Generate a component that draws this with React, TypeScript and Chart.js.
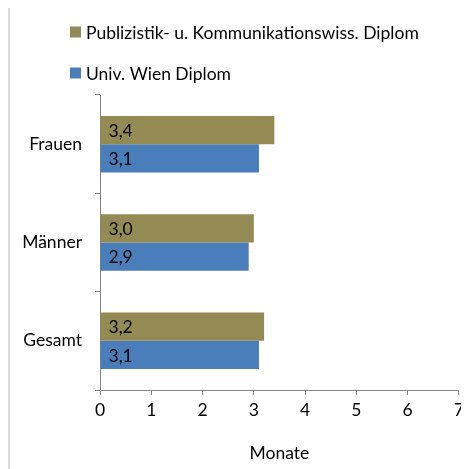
import React, { useEffect, useRef } from "react";
import { Chart, registerables } from "chart.js";

Chart.register(...registerables);

const categories = ["Frauen", "Männer", "Gesamt"];
const seriesNames = ["Publizistik- u. Kommunikationswiss. Diplom", "Univ. Wien Diplom"];
const publizistik = [3.4, 3.0, 3.2];
const univWien = [3.1, 2.9, 3.1];
const seriesColors = ["#948A54", "#4A7EBB"];
const xTicks = [0, 1, 2, 3, 4, 5, 6, 7];
const xTitle = "Monate";

const FONT = "Lato, 'DejaVu Sans', sans-serif";
const FS = 17.5;
const AXIS = "#868686";

const legendPlugin = {
  id: "customLegend",
  afterDraw(chart: any) {
    const ctx = chart.ctx;
    ctx.save();
    ctx.font = `${FS}px ${FONT}`;
    ctx.textBaseline = "middle";
    ctx.textAlign = "left";
    const rows = [25, 66];
    chart.data.datasets.forEach((ds: any, i: number) => {
      const y = rows[i];
      ctx.fillStyle = ds.backgroundColor;
      ctx.fillRect(60, y - 5.5, 11, 11);
      ctx.fillStyle = "#000";
      ctx.fillText(ds.label, 76, y + 1);
    });
    ctx.restore();
  },
};

const labelPlugin = {
  id: "barLabels",
  afterDatasetsDraw(chart: any) {
    const ctx = chart.ctx;
    ctx.save();
    ctx.font = `${FS}px ${FONT}`;
    ctx.textBaseline = "middle";
    ctx.textAlign = "left";
    ctx.fillStyle = "#000";
    chart.data.datasets.forEach((ds: any, di: number) => {
      const meta = chart.getDatasetMeta(di);
      meta.data.forEach((bar: any, i: number) => {
        const v = ds.data[i] as number;
        ctx.fillText(v.toFixed(1).replace(".", ","), bar.base + 8, bar.y + 1);
      });
    });
    ctx.restore();
  },
};

export default function App() {
  const ref = useRef<HTMLCanvasElement>(null);
  useEffect(() => {
    document.documentElement.style.overflow = "hidden";
    document.body.style.overflow = "hidden";
    const chart = new Chart(ref.current!, {
      type: "bar",
      data: {
        labels: categories,
        datasets: [
          { label: seriesNames[0], data: publizistik, backgroundColor: seriesColors[0] },
          { label: seriesNames[1], data: univWien, backgroundColor: seriesColors[1] },
        ],
      },
      options: {
        indexAxis: "y",
        responsive: false,
        animation: false,
        datasets: { bar: { categoryPercentage: 0.575, barPercentage: 1 } },
        layout: { padding: { top: 88, left: 10, right: 10, bottom: 5 } },
        plugins: { legend: { display: false }, tooltip: { enabled: false } },
        scales: {
          x: {
            min: 0,
            max: 7,
            afterBuildTicks: (s: any) => {
              s.ticks = xTicks.map((v) => ({ value: v }));
            },
            ticks: { color: "#000", font: { family: FONT, size: FS }, padding: 5 },
            grid: { drawOnChartArea: false, drawTicks: true, tickLength: 5, color: AXIS },
            border: { color: AXIS },
            title: {
              display: true,
              text: xTitle,
              color: "#000",
              font: { family: FONT, size: FS },
              padding: { top: 17, bottom: 0 },
            },
          },
          y: {
            afterFit: (s: any) => {
              s.width = 80;
            },
            ticks: { color: "#000", font: { family: FONT, size: FS }, padding: 13 },
            grid: { offset: true, drawOnChartArea: false, drawTicks: true, tickLength: 5, color: AXIS },
            border: { color: AXIS },
          },
        },
      },
      plugins: [legendPlugin, labelPlugin],
    });
    return () => chart.destroy();
  }, []);
  return (
    <div
      style={{
        marginTop: -3,
        width: 459,
        height: 462,
        borderTop: "2px solid #d9d9d9",
        borderLeft: "2px solid #d9d9d9",
      }}
    >
      <canvas ref={ref} width={459} height={462} style={{ display: "block" }} />
    </div>
  );
}
